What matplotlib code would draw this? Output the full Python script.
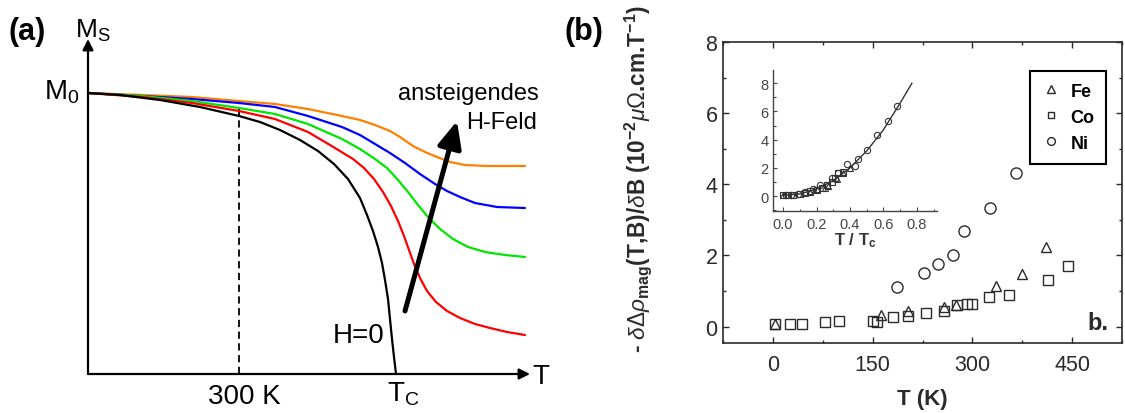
import matplotlib
matplotlib.use("Agg")
import matplotlib.pyplot as plt
from matplotlib.ticker import MultipleLocator, FixedLocator

plt.rcParams['font.family'] = ['Liberation Sans', 'DejaVu Sans']
plt.rcParams['mathtext.fontset'] = 'custom'
plt.rcParams['mathtext.rm'] = 'Liberation Sans'
plt.rcParams['mathtext.it'] = 'Liberation Sans:italic'
plt.rcParams['mathtext.bf'] = 'Liberation Sans:bold'
plt.rcParams['mathtext.sf'] = 'Liberation Sans'

# ---------------- Panel (a): schematic Ms(T) curves (T in K, M in arb. units, M0 = 281) ----------------
T_black = [0, 64, 144, 224, 302, 344, 384, 424, 460, 492, 520, 544, 558, 570, 580, 588, 594, 600, 604, 608, 612, 616]
M_black = [281, 279, 274, 267, 258, 252, 244, 234, 223, 210, 195, 176, 159, 143, 127, 111, 94, 75, 55, 35, 17, 0]

T_red = [0, 108, 208, 302, 374, 440, 484, 530, 552, 572, 590, 606, 620, 632, 642, 652, 664, 678, 696, 718, 744, 774, 804, 838, 874]
M_red = [281, 277, 271, 263, 255, 242, 229, 215, 206, 195, 182, 168, 153, 138, 124, 110, 96, 83, 72, 63, 56, 50, 46, 42, 39]

T_green = [0, 108, 208, 302, 374, 440, 508, 544, 574, 598, 620, 640, 660, 680, 704, 730, 760, 794, 834, 874]
M_green = [281, 278, 273, 266, 260, 250, 235, 225, 215, 206, 194, 182, 169, 157, 145, 135, 127, 122, 119, 117]

T_blue = [0, 108, 208, 302, 374, 440, 508, 544, 574, 604, 634, 664, 694, 718, 744, 774, 818, 874]
M_blue = [281, 278, 275, 271, 267, 258, 247, 239, 230, 221, 211, 200, 190, 183, 177, 171, 167, 166]

T_orange = [0, 108, 208, 302, 374, 440, 508, 544, 574, 604, 624, 650, 674, 698, 724, 754, 798, 874]
M_orange = [281, 279, 277, 273, 270, 265, 258, 254, 249, 243, 237, 228, 222, 217, 212, 209, 208, 208]

T_room = 302          # "300 K" marker position
M_room_top = 274
T_arrow = [634, 738]  # increasing field arrow (tail, head)
M_arrow = [63, 253]

# ---------------- Panel (b): measured data ----------------
Fe_T = [3, 163, 203, 257, 276, 335, 374, 410]
Fe_V = [0.07, 0.32, 0.44, 0.55, 0.62, 1.13, 1.49, 2.24]
Co_T = [3, 25, 44, 78, 100, 150, 157, 181, 203, 230, 257, 277, 292, 300, 325, 355, 414, 444]
Co_V = [0.06, 0.07, 0.07, 0.12, 0.16, 0.15, 0.14, 0.27, 0.29, 0.38, 0.44, 0.60, 0.65, 0.63, 0.84, 0.90, 1.31, 1.71]
Ni_T = [187, 227, 249, 271, 287, 326, 366]
Ni_V = [1.12, 1.50, 1.76, 2.01, 2.69, 3.33, 4.31]

# inset (T/Tc scaled)
in_Ni_u = [0.02, 0.05, 0.09, 0.13, 0.18, 0.22, 0.29, 0.33, 0.38, 0.43, 0.45, 0.50, 0.56, 0.63, 0.68]
in_Ni_v = [0.05, 0.10, 0.15, 0.30, 0.50, 0.80, 1.30, 1.60, 2.30, 2.10, 2.60, 3.30, 4.35, 5.30, 6.40]
in_Co_u = [0.00, 0.03, 0.06, 0.10, 0.13, 0.16, 0.20, 0.23, 0.26, 0.29, 0.31, 0.33, 0.36]
in_Co_v = [0.05, 0.05, 0.10, 0.15, 0.20, 0.35, 0.45, 0.60, 0.75, 1.00, 1.30, 1.60, 1.70]
in_Fe_u = [0.00, 0.16, 0.20, 0.25, 0.27, 0.32, 0.36, 0.40]
in_Fe_v = [0.05, 0.30, 0.50, 0.60, 0.70, 1.20, 1.60, 2.00]
fit_u = [0.0, 0.1, 0.2, 0.3, 0.4, 0.5, 0.6, 0.7, 0.77]
fit_v = [0.05, 0.15, 0.5, 1.1, 2.0, 3.2, 4.7, 6.6, 8.0]

W, H = 1125, 414
fig = plt.figure(figsize=(W / 100, H / 100), dpi=100)

def fx(px):
    return px / W

def fy(py):
    return 1 - py / H

def axrect(x0, y0, x1, y1):
    return [fx(x0), fy(y1), (x1 - x0) / W, (y1 - y0) / H]

# ================= Panel (a) =================
axa = fig.add_axes(axrect(88, 40, 530, 375))
axa.set_xlim(0, 884)
axa.set_ylim(0, 335)
axa.axis('off')

axa.annotate('', xy=(884, 0), xytext=(0, 0),
             arrowprops=dict(arrowstyle='-|>', lw=1.6, color='k', mutation_scale=16,
                             shrinkA=0, shrinkB=0), annotation_clip=False)
axa.annotate('', xy=(0, 335), xytext=(0, 0),
             arrowprops=dict(arrowstyle='-|>', lw=1.6, color='k', mutation_scale=16,
                             shrinkA=0, shrinkB=0), annotation_clip=False)

axa.plot([T_room, T_room], [0, M_room_top], color='k', lw=1.3, ls=(0, (4, 2.5)))

lw_c = 1.6
style = dict(lw=lw_c, solid_joinstyle='round', solid_capstyle='round')
axa.plot(T_orange, M_orange, color='#FF7F00', **style)
axa.plot(T_blue, M_blue, color='#0000FF', **style)
axa.plot(T_green, M_green, color='#00E600', **style)
axa.plot(T_red, M_red, color='#FF0000', **style)
axa.plot(T_black, M_black, color='k', **style)

axa.annotate('', xy=(T_arrow[1], M_arrow[1]), xytext=(T_arrow[0], M_arrow[0]),
             arrowprops=dict(arrowstyle='-|>,head_length=0.8,head_width=0.36',
                             lw=3.6, color='k', mutation_scale=20,
                             shrinkA=0, shrinkB=0))

fig.text(fx(8), fy(32), '(a)', ha='left', va='center', fontsize=22, fontweight='bold')
fig.text(fx(75), fy(38), r'M$_\mathrm{S}$', ha='left', va='baseline', fontsize=19)
fig.text(fx(80), fy(100), r'M$_\mathrm{0}$', ha='right', va='baseline', fontsize=20)
fig.text(fx(244), fy(404), '300 K', ha='center', va='baseline', fontsize=20)
fig.text(fx(387), fy(402), r'T$_\mathrm{C}$', ha='left', va='baseline', fontsize=20)
fig.text(fx(333), fy(343), 'H=0', ha='left', va='baseline', fontsize=20)
fig.text(fx(532), fy(384), 'T', ha='left', va='baseline', fontsize=20)
fig.text(fx(398), fy(100), 'ansteigendes', ha='left', va='baseline', fontsize=17)
fig.text(fx(466), fy(129), 'H-Feld', ha='left', va='baseline', fontsize=17)

# ================= Panel (b) =================
gray = '#2a2a2a'
axb = fig.add_axes(axrect(723, 43, 1122, 344))
axb.set_xlim(-75, 525)
axb.set_ylim(-0.46, 8)
axb.xaxis.set_major_locator(FixedLocator([0, 150, 300, 450]))
axb.xaxis.set_minor_locator(MultipleLocator(75))
axb.yaxis.set_major_locator(FixedLocator([0, 2, 4, 6, 8]))
axb.yaxis.set_minor_locator(MultipleLocator(1))
axb.tick_params(which='both', direction='in', top=True, right=True, colors=gray,
                labelsize=15.5, width=1)
axb.tick_params(which='major', length=4)
axb.tick_params(which='minor', length=2.5)
axb.tick_params(axis='x', pad=8)
axb.tick_params(axis='y', pad=4)
for s in axb.spines.values():
    s.set_color(gray)
    s.set_linewidth(1.2)

mk = dict(linestyle='none', markerfacecolor='none', markeredgecolor=gray,
          markeredgewidth=1.0, markersize=7.5)
axb.plot(Fe_T, Fe_V, marker='^', label='Fe', **mk)
axb.plot(Co_T, Co_V, marker='s', label='Co', **dict(mk, markersize=7))
axb.plot(Ni_T, Ni_V, marker='o', label='Ni', **dict(mk, markersize=8))

leg = axb.legend(loc='upper left', bbox_to_anchor=(fx(1030), fy(72)),
                 bbox_transform=fig.transFigure, borderaxespad=0,
                 fancybox=False, framealpha=1, edgecolor='k',
                 prop=dict(weight='bold', size=13), handlelength=1.0,
                 handletextpad=0.6, borderpad=0.65, labelspacing=0.5,
                 markerscale=0.7)
leg.get_frame().set_linewidth(1.5)

axb.set_xlabel('T (K)', fontsize=16, fontweight='bold', va='center', color=gray)
axb.xaxis.set_label_coords(0.5, (344 - 400) / 301)
axb.set_ylabel(r'- $\delta\Delta\rho_{\mathbf{mag}}$(T,B)/$\delta$B (10$^{\mathbf{-2}}\mu\Omega$.cm.T$^{\mathbf{-1}}$)',
               fontsize=16.3, fontweight='bold', va='center', color=gray)
axb.yaxis.set_label_coords((638 - 723) / 399, (344 - 179) / 301)

fig.text(fx(1087), fy(324), 'b.', ha='left', va='center', fontsize=17, fontweight='bold', color=gray)
fig.text(fx(565), fy(32), '(b)', ha='left', va='center', fontsize=22, fontweight='bold')

# ---- inset ----
axi = fig.add_axes(axrect(773, 71, 937, 212))
axi.set_xlim(-0.06, 0.92)
axi.set_ylim(-1.06, 8.94)
axi.patch.set_alpha(0)
axi.spines['top'].set_visible(False)
axi.spines['right'].set_visible(False)
for s in ['left', 'bottom']:
    axi.spines[s].set_color('#444')
    axi.spines[s].set_linewidth(1.0)
axi.xaxis.set_major_locator(FixedLocator([0.0, 0.2, 0.4, 0.6, 0.8]))
axi.xaxis.set_minor_locator(MultipleLocator(0.1))
axi.yaxis.set_major_locator(FixedLocator([0, 2, 4, 6, 8]))
axi.yaxis.set_minor_locator(MultipleLocator(1))
axi.set_xticklabels(['0.0', '0.2', '0.4', '0.6', '0.8'])
axi.tick_params(which='both', direction='in', colors='#444', labelsize=10.5, width=0.8)
axi.tick_params(which='major', length=3)
axi.tick_params(which='minor', length=1.8)
axi.tick_params(axis='x', pad=4)
axi.tick_params(axis='y', pad=3)

axi.plot(fit_u, fit_v, color='#333', lw=1.0)
mki = dict(linestyle='none', markerfacecolor='none', markeredgecolor='#333',
           markeredgewidth=0.8, markersize=4.5)
axi.plot(in_Fe_u, in_Fe_v, marker='^', **mki)
axi.plot(in_Co_u, in_Co_v, marker='s', **dict(mki, markersize=4))
axi.plot(in_Ni_u, in_Ni_v, marker='o', **mki)
axi.set_xlabel(r'T / T$_\mathbf{c}$', fontsize=12, fontweight='bold', color='#333', va='center')
axi.xaxis.set_label_coords(0.5, (212 - 241) / 141)

fig.savefig('out.png', dpi=100)
